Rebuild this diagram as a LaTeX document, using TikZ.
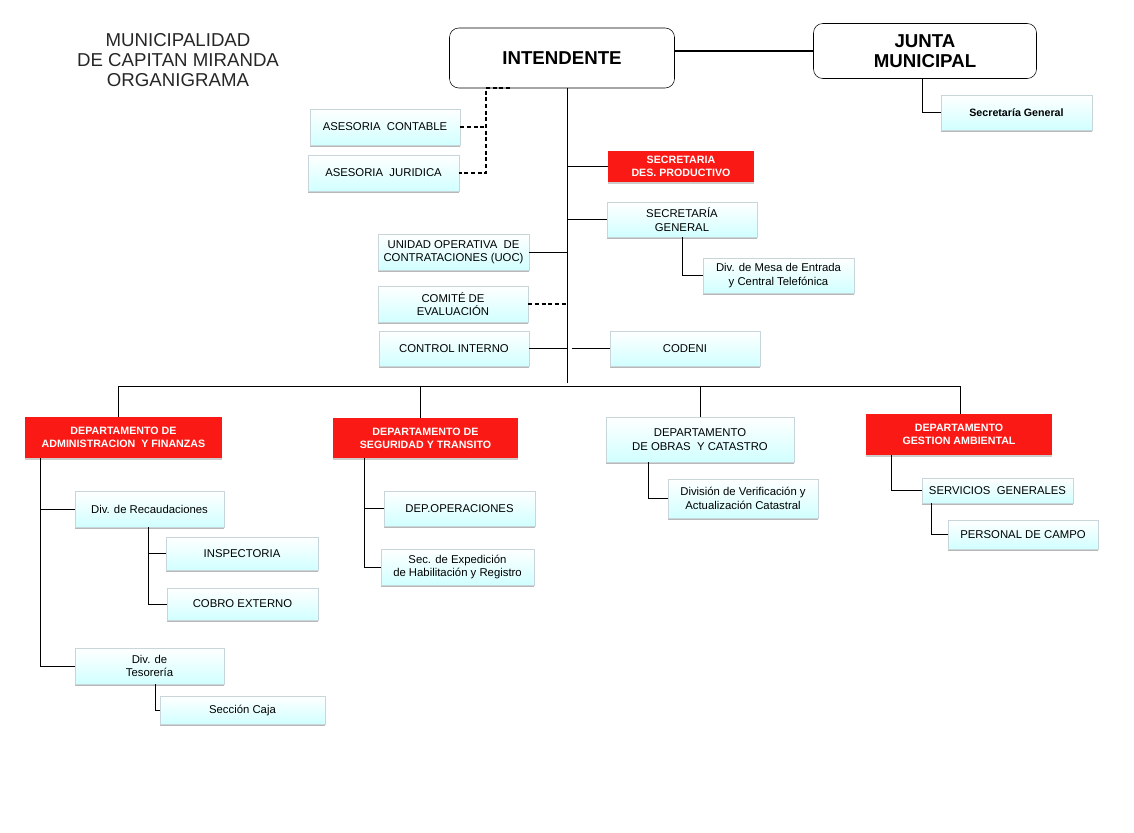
\documentclass[tikz,border=0pt]{standalone}
\usepackage{fontspec}
\setmainfont{Liberation Sans}
\usetikzlibrary{shadows}
\definecolor{rd}{RGB}{250,25,20}
\begin{document}
\begin{tikzpicture}[x=0.75pt,y=-0.75pt,
 box/.style={draw=cyan!25!gray!40,line width=0.4pt,top color=white,bottom color=cyan!18,
   drop shadow={shadow xshift=0pt,shadow yshift=-1.6pt,fill=gray!70,opacity=0.8},
   align=center,font=\fontsize{8.5}{10}\selectfont,inner sep=1pt},
 red/.style={fill=rd,draw=none,text=white,font=\bfseries\fontsize{8}{9.5}\selectfont,align=center,inner sep=1pt,
   drop shadow={shadow xshift=0pt,shadow yshift=-1.6pt,fill=gray!50,opacity=0.8}},
 ln/.style={line width=0.6pt},
 dsh/.style={line width=1.2pt,dash pattern=on 3pt off 2pt}]
\useasboundingbox (0,0) rectangle (1134,832);
\newcommand\mb[6][box]{\node[#1,minimum width={(#4-#2)*0.75pt},minimum height={(#5-#3)*0.75pt}] (#6) at ({(#2+#4)/2},{(#3+#5)/2})}
\node[align=center,font=\fontsize{14}{15}\selectfont,text=black!85] (title) at (178,60) {MUNICIPALIDAD\\DE CAPITAN MIRANDA\\ORGANIGRAMA};
\node[draw,rounded corners=7pt,fill=white,minimum width={225*0.75pt},minimum height={60*0.75pt},font=\bfseries\fontsize{14}{16}\selectfont] (int) at (562,58) {INTENDENTE};
\node[draw,rounded corners=7pt,fill=white,minimum width={223*0.75pt},minimum height={55*0.75pt},font=\bfseries\fontsize{14}{15}\selectfont,align=center] (junta) at (925,51) {JUNTA\\MUNICIPAL};
\draw[line width=2.2pt] (int.east |- 0,51) -- (junta.west |- 0,51);
\mb{941}{95}{1092}{130}{sgj}{\bfseries\fontsize{8}{9}\selectfont Secretaría General};
\draw[ln] (junta.south -| 922,0) |- (sgj.west);
\mb{310}{109}{460}{145}{ac}{ASESORIA\ \ CONTABLE};
\mb{308}{155}{459}{191}{aj}{ASESORIA\ \ JURIDICA};
\coordinate (dtop) at (486,88);
\draw[dsh] (510,88) -- (dtop) |- (aj.east);
\draw[dsh] (ac.east) -- (ac.east -| dtop);
\coordinate (mtop) at (567,88);
\coordinate (mbot) at (567,383);
\draw[ln] (mtop) -- (mbot);
\mb[red]{608}{151}{754}{182}{sdp}{SECRETARIA\\DES.\ PRODUCTIVO};
\draw[ln] (sdp.west) -- (sdp.west -| mtop);
\mb{607}{202}{757}{237}{sg}{SECRETARÍA\\GENERAL};
\draw[ln] (sg.west) -- (sg.west -| mtop);
\mb{703}{258}{854}{293}{mesa}{Div. de Mesa de Entrada\\y Central Telefónica};
\draw[ln] (sg.south -| 682,0) |- (mesa.west);
\mb{378}{234}{529}{270}{uoc}{UNIDAD OPERATIVA\ \ DE\\CONTRATACIONES (UOC)};
\draw[ln] (uoc.east) -- (uoc.east -| mtop);
\mb{378}{286}{528}{322}{com}{COMITÉ DE\\EVALUACIÓN};
\draw[dsh,line width=0.9pt] (com.east) -- (com.east -| mtop);
\mb{379}{331}{529}{366}{ci}{CONTROL INTERNO};
\draw[ln] (ci.east) -- (ci.east -| mtop);
\mb{610}{331}{760}{366}{cod}{CODENI};
\draw[ln] (cod.west -| 572,0) -- (cod.west);
% departments
\mb[red]{25}{417}{222}{458}{dadm}{DEPARTAMENTO DE\\ADMINISTRACION\ \ Y FINANZAS};
\mb[red]{333}{418}{518}{458}{dseg}{DEPARTAMENTO DE\\SEGURIDAD Y TRANSITO};
\mb{606}{417}{794}{462}{dobr}{DEPARTAMENTO\\DE OBRAS\ \ Y CATASTRO};
\mb[red]{866}{414}{1052}{455}{dges}{DEPARTAMENTO\\GESTION AMBIENTAL};
\draw[ln] (dadm.north -| 118,0) -- (118,386) -- (960,386) -- (dges.north -| 960,0);
\draw[ln] (420,386) -- (dseg.north -| 420,0);
\draw[ln] (700,386) -- (dobr.north -| 700,0);
% admin
\mb{75}{491}{224}{527}{rec}{Div. de Recaudaciones};
\mb{75}{648}{224}{684}{tes}{Div. de\\Tesorería};
\draw[ln] (dadm.south -| 40,0) |- (tes.west);
\draw[ln] (rec.west -| 40,0) -- (rec.west);
\mb{166}{537}{318}{570}{insp}{INSPECTORIA};
\mb{167}{588}{318}{620}{cobro}{COBRO EXTERNO};
\draw[ln] (rec.south -| 148,0) |- (cobro.west);
\draw[ln] (insp.west -| 148,0) -- (insp.west);
\mb{160}{696}{325}{724}{caja}{Sección Caja};
\draw[ln] (tes.south -| 155,0) |- (caja.west);
% seguridad
\mb{384}{491}{535}{526}{dop}{DEP.OPERACIONES};
\mb{381}{549}{534}{585}{sec}{Sec. de Expedición\\de Habilitación y Registro};
\draw[ln] (dseg.south -| 364,0) |- (sec.west);
\draw[ln] (dop.west -| 364,0) -- (dop.west);
% obras
\mb{668}{479}{818}{518}{ver}{División de Verificación y\\Actualización Catastral};
\draw[ln] (dobr.south -| 648,0) |- (ver.west);
% gestion
\mb{922}{478}{1073}{503}{serv}{SERVICIOS\ \ GENERALES};
\draw[ln] (dges.south -| 891,0) |- (serv.west);
\mb{948}{520}{1098}{549}{pers}{PERSONAL DE CAMPO};
\draw[ln] (serv.south -| 931,0) |- (pers.west);
\end{tikzpicture}
\end{document}
